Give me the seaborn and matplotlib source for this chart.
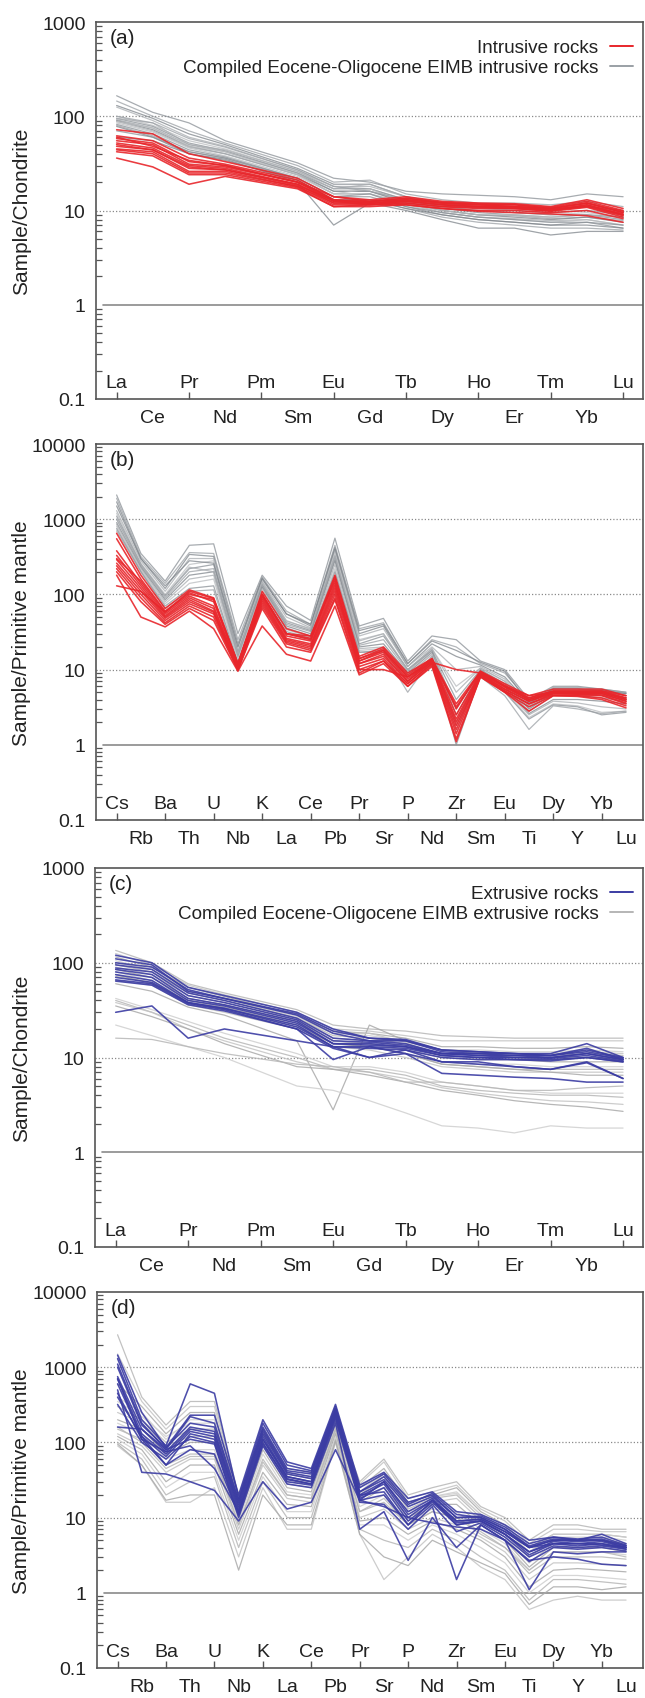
import numpy as np
import pandas as pd
import matplotlib
matplotlib.use("Agg")
import matplotlib.pyplot as plt
from matplotlib.lines import Line2D
from matplotlib.ticker import FixedLocator, FuncFormatter, NullFormatter
import seaborn as sns

# ---------------------------------------------------------------- element axes
REE_AXIS = ["La", "Ce", "Pr", "Nd", "Pm", "Sm", "Eu", "Gd", "Tb", "Dy",
            "Ho", "Er", "Tm", "Yb", "Lu"]
REE_MEASURED = ["La", "Ce", "Pr", "Nd", "Sm", "Eu", "Gd", "Tb", "Dy",
                "Ho", "Er", "Tm", "Yb", "Lu"]          # Pm not analysed
SPIDER_AXIS = ["Cs", "Rb", "Ba", "Th", "U", "Nb", "K", "La", "Ce", "Pb", "Pr",
               "Sr", "P", "Nd", "Zr", "Sm", "Eu", "Ti", "Dy", "Y", "Yb", "Lu"]

# ------------------------------------------- (a) chondrite-normalised REE, intrusive
intrusive_ree = [
    [72, 65, 40, 33, 22, 14, 13, 14, 12.5, 12, 11.8, 11, 13, 10.5],
    [62, 55, 36, 31, 21, 13, 12.5, 13.5, 12.2, 11.8, 11.5, 10.8, 12.5, 10],
    [58, 52, 33, 30, 20, 12.5, 12.5, 13, 12, 11.5, 11.5, 10.5, 12, 9.5],
    [55, 50, 31, 29, 20, 13, 12, 13, 12, 11.5, 11, 10.5, 12, 9.5],
    [52, 46, 30, 28, 19, 12, 12, 12.5, 11.5, 11, 11, 10.2, 11.5, 9.2],
    [48, 44, 28, 27, 19, 12.5, 11.5, 12.5, 11.5, 11, 10.8, 10, 11.2, 9],
    [45, 42, 26, 26, 18, 12, 12, 12, 11, 10.8, 10.5, 10, 11, 8.8],
    [44, 40, 25, 25, 18, 11.5, 11.5, 12, 11, 10.5, 10.5, 9.8, 10.8, 8.5],
    [42, 38, 24, 24, 17.5, 11, 11.5, 11.5, 10.5, 10, 10, 9.5, 10, 8.2],
    [36, 29, 19, 23, 17, 11, 11, 11.5, 10.5, 9.8, 9.5, 9.2, 8.8, 7.5],
    [60, 48, 34, 30, 20, 14, 12.5, 13.5, 12, 11.5, 11, 10.5, 12, 9.8],
    [50, 44, 29, 27, 18.5, 12.8, 12, 12.8, 11.5, 11, 10.5, 10, 11.5, 9],
]
compiled_intrusive_ree = [
    [165, 110, 85, 55, 32, 22, 20, 16, 15, 14.5, 14, 13, 15, 14],
    [145, 100, 70, 52, 30, 20, 21, 15, 13, 12, 12, 11.5, 12.5, 11],
    [130, 95, 65, 50, 28, 19, 19, 14, 12, 11, 11, 10.5, 11, 10],
    [125, 90, 60, 48, 27, 18, 18, 14, 11.5, 10.5, 10, 9.5, 10, 9],
    [100, 80, 55, 45, 26, 18, 17, 13, 11, 10, 9.5, 9, 9.5, 8.5],
    [95, 78, 52, 43, 25, 17, 17, 13, 10.5, 9.5, 9, 8.5, 9, 8],
    [92, 75, 50, 42, 25, 16, 16, 12.5, 10, 9, 8.8, 8.2, 8.5, 7.8],
    [90, 72, 48, 40, 24, 16, 16, 12, 10, 9, 8.5, 8, 8.5, 7.5],
    [88, 70, 47, 40, 24, 15, 15, 12, 9.5, 8.5, 8.2, 7.8, 8, 7],
    [85, 68, 46, 38, 23, 15, 15, 11.5, 9.5, 8.5, 8, 7.5, 8, 7],
    [82, 65, 44, 37, 22, 14, 14, 11, 9, 8, 7.5, 7, 7.5, 6.5],
    [80, 62, 42, 36, 21, 13, 13, 10.5, 8.5, 7.5, 7, 6.5, 6.5, 6.2],
    [78, 60, 40, 35, 20, 7, 12, 10, 8, 6.5, 6.5, 5.5, 6, 6],
    [95, 85, 50, 44, 26, 17, 19, 14, 12, 11, 10, 9.5, 10, 9.5],
    [88, 75, 48, 42, 24, 15, 17, 12, 10, 9, 9, 8.5, 9, 8.5],
    [70, 60, 42, 36, 22, 14, 15, 11, 9.5, 8.5, 8, 7.5, 7.5, 7],
    [100, 85, 58, 47, 27, 18, 16, 13, 11, 10, 9.5, 9, 9, 8.5],
    [60, 55, 40, 34, 21, 13, 13, 10.5, 9, 8, 7.5, 7, 7, 6.5],
]

# ------------------------------- (b) primitive-mantle-normalised traces, intrusive
intrusive_spider = [
    [650, 180, 65, 115, 90, 12, 110, 35, 28, 180, 15, 20, 9, 14, 3.5, 9.5, 6.5, 4.5, 5.5, 5.5, 5.5, 4.5],
    [550, 160, 60, 105, 80, 11.5, 100, 30, 25, 160, 14, 19, 8.5, 14, 3, 9.5, 6, 4.2, 5.2, 5.2, 5.2, 4.2],
    [380, 140, 55, 95, 70, 11, 95, 28, 24, 140, 13, 18, 8, 13.5, 2.5, 9, 6, 4, 5, 5, 5, 4],
    [330, 130, 52, 90, 65, 11, 90, 26, 22, 130, 13, 17, 7.5, 13, 2.2, 9, 5.8, 4, 5, 5, 5, 4],
    [290, 120, 50, 85, 60, 10.5, 85, 25, 21, 120, 12, 16, 7, 13, 2, 8.8, 5.5, 3.8, 5, 4.8, 4.8, 3.8],
    [260, 110, 48, 80, 58, 10.5, 80, 24, 20, 110, 12, 15, 7, 12.5, 1.8, 8.5, 5.5, 3.8, 4.8, 4.8, 4.8, 3.8],
    [240, 100, 45, 75, 55, 10, 75, 23, 19, 100, 11, 14, 6.5, 12, 1.6, 8.5, 5.2, 3.5, 4.8, 4.7, 4.6, 3.6],
    [220, 90, 42, 70, 50, 10, 70, 22, 18, 90, 10, 13, 6.5, 12, 1.4, 8.2, 5.2, 3.5, 4.6, 4.6, 4.5, 3.5],
    [200, 80, 40, 65, 45, 9.8, 65, 20, 17, 85, 9, 13, 6, 11.5, 1.2, 8, 5, 3.2, 4.5, 4.5, 4.2, 3.3],
    [180, 50, 37, 60, 35, 9.5, 38, 16, 13, 70, 8.5, 12, 6, 11, 1.1, 8, 5, 2.8, 4.5, 4.4, 4, 3.1],
    [130, 110, 58, 100, 85, 12, 100, 30, 28, 150, 10, 10, 8, 12.5, 10, 9, 6, 4.5, 5, 5, 5, 4.2],
    [300, 150, 58, 110, 88, 12, 100, 30, 26, 170, 14, 18, 8, 13.5, 3.2, 9.2, 6.2, 4.2, 5.2, 5.2, 5.2, 4.5],
]
compiled_intrusive_spider = [
    [2100, 350, 150, 450, 470, 30, 180, 70, 45, 560, 38, 48, 13, 28, 25, 13, 10, 4, 6, 6, 5.5, 5],
    [1900, 320, 140, 360, 350, 25, 170, 60, 40, 450, 35, 42, 12, 25, 20, 12, 9, 3.8, 5.8, 5.8, 5.5, 5],
    [1500, 300, 120, 340, 320, 22, 160, 55, 38, 400, 30, 38, 11, 22, 15, 11.5, 8, 3.5, 5.5, 5.5, 5.2, 4.8],
    [1300, 280, 110, 300, 300, 20, 150, 50, 36, 380, 28, 35, 11, 20, 10, 11, 7.5, 3.3, 5.2, 5.2, 5, 4.5],
    [1200, 260, 100, 250, 280, 18, 140, 45, 34, 350, 25, 30, 10, 19, 6, 10.5, 7, 3, 5, 5, 4.8, 4.2],
    [1100, 250, 95, 220, 250, 17, 135, 42, 33, 320, 22, 28, 10, 18, 4, 10, 6.5, 3, 4.8, 4.8, 4.5, 4],
    [1000, 240, 90, 200, 220, 16, 130, 40, 32, 300, 21, 25, 9.5, 18, 3, 10, 6, 2.8, 4.5, 4.5, 4.2, 3.8],
    [900, 230, 85, 180, 200, 15, 125, 38, 30, 280, 20, 22, 9, 17, 2.5, 9.5, 6, 2.6, 4, 4, 3.8, 3.5],
    [850, 220, 80, 160, 180, 14, 120, 36, 28, 250, 19, 20, 8.5, 16, 2, 9, 5.5, 2.5, 3.8, 3.6, 3.2, 3],
    [800, 210, 75, 140, 160, 13, 110, 34, 27, 220, 18, 19, 8, 16, 1.5, 9, 5.2, 2.3, 3.5, 3.3, 2.7, 2.8],
    [750, 200, 70, 120, 130, 12, 100, 32, 26, 200, 17, 18, 7, 15, 1.0, 8.5, 5, 2.2, 3.4, 3.2, 2.5, 2.7],
    [700, 200, 65, 110, 115, 11.5, 95, 30, 25, 180, 17, 17, 5, 14, 1.8, 8, 4.5, 1.6, 3.3, 3, 2.6, 2.8],
    [1700, 300, 130, 280, 260, 20, 165, 55, 40, 420, 33, 40, 12, 24, 18, 12.5, 9.5, 3.6, 5.6, 5.6, 5.3, 4.8],
    [1000, 250, 95, 230, 200, 16, 145, 44, 35, 330, 24, 30, 10, 19, 5, 10.5, 7, 3.2, 5, 5, 4.6, 4.2],
]

# ------------------------------------------- (c) chondrite-normalised REE, extrusive
extrusive_ree = [
    [120, 100, 55, 45, 30, 20, 16, 15.5, 12, 11.5, 11, 11, 14, 10],
    [100, 90, 52, 42, 28, 18, 15, 15, 11.5, 11, 11, 10.5, 12, 10],
    [95, 85, 48, 40, 26, 16, 15, 14, 11, 11, 10.5, 10.5, 11.5, 9.8],
    [88, 80, 45, 38, 25, 15, 14.5, 13.5, 11, 10.5, 10.5, 10, 11, 9.5],
    [85, 75, 42, 36, 24, 14, 14, 13, 11, 10.5, 10, 10, 11, 9.5],
    [80, 70, 40, 35, 23, 14, 13.5, 13, 10.5, 10, 10, 9.8, 10.5, 9.2],
    [75, 65, 38, 33, 22, 13, 13, 12.5, 10.5, 10, 9.5, 9.5, 10, 9],
    [70, 62, 38, 33, 21, 13, 12.5, 12, 10, 9.5, 9.5, 9.2, 10, 9],
    [66, 60, 37, 32, 20, 12.5, 10, 12, 9, 8.5, 8, 7.5, 9, 6],
    [64, 58, 36, 31, 20, 9.5, 13, 11, 6.8, 6.5, 6.2, 6, 5.5, 5.5],
    [30, 35, 16, 20, 15, 13, 10, 11, 9, 9, 8, 7.5, 8.8, 6],
    [110, 95, 50, 42, 29, 19, 16, 15, 12, 11.5, 11, 10.5, 12.5, 9.5],
]
compiled_extrusive_ree = [
    [135, 100, 60, 48, 32, 22, 20, 19, 17, 16.5, 16, 16, 16, 16],
    [125, 95, 58, 46, 30, 20, 19, 17, 15, 15, 15, 15, 15, 15],
    [115, 90, 55, 44, 28, 19, 18, 16, 13, 13, 12.5, 12.5, 13, 12.5],
    [105, 85, 50, 42, 27, 18, 17, 15, 12, 12, 11.5, 11.5, 12, 11.5],
    [95, 80, 48, 40, 26, 17, 16, 14, 11, 11, 10.5, 10.5, 11, 10.5],
    [90, 75, 45, 38, 25, 16, 15, 13, 10.5, 10, 10, 10, 10, 10],
    [85, 70, 42, 36, 24, 15, 14, 12, 10, 9.5, 9.5, 9, 9, 9],
    [80, 65, 40, 34, 23, 15, 14, 12, 9, 8.5, 8.5, 8, 8, 8],
    [72, 62, 38, 32, 21, 14, 13, 11, 8.5, 8, 7.5, 7.5, 7.5, 7.5],
    [65, 58, 36, 30, 20, 13, 12, 10, 8, 7.5, 7, 7, 7, 7],
    [60, 50, 34, 28, 15, 2.8, 22, 15, 12, 11, 10, 9.5, 10, 9.5],
    [42, 32, 24, 18, 11, 8, 8, 7, 5.5, 5, 4.5, 4.2, 4.2, 4.2],
    [40, 30, 22, 16, 10, 7.5, 7.5, 6.5, 5, 4.5, 4.2, 4, 4, 3.8],
    [38, 30, 20, 15, 9, 7.5, 7, 6, 4.8, 4.2, 3.8, 3.5, 3.4, 3.2],
    [35, 27, 20, 14, 8, 7.5, 6.5, 5.5, 4.5, 4, 3.5, 3.2, 3, 2.7],
    [22, 17, 13, 10, 5, 4.5, 3.5, 2.6, 1.9, 1.8, 1.6, 1.9, 1.8, 1.8],
    [16, 15.5, 13, 11, 8.5, 8, 7, 5.5, 5.5, 5, 4.5, 4.5, 4.8, 5],
    [100, 85, 50, 42, 26, 18, 18, 14.5, 12, 11.5, 11, 11, 11.5, 11],
    [75, 60, 40, 34, 22, 14, 13, 11, 8.5, 8, 7.5, 7, 6.5, 6.5],
]

# ------------------------------- (d) primitive-mantle-normalised traces, extrusive
extrusive_spider = [
    [1450, 250, 85, 230, 230, 20, 200, 55, 45, 320, 27, 40, 18, 22, 12, 11, 8, 5, 5.5, 5, 6, 4.5],
    [1300, 200, 90, 600, 450, 18, 180, 50, 42, 300, 25, 38, 16, 20, 10, 10.5, 7.5, 4.5, 5.5, 5.2, 5.5, 4.3],
    [1100, 180, 80, 220, 180, 17, 160, 45, 40, 280, 22, 35, 15, 21, 11, 10, 7, 4.2, 5.2, 5, 5.2, 4.2],
    [750, 150, 75, 160, 140, 15, 140, 40, 35, 260, 20, 30, 12, 18, 9, 9.5, 6.5, 4, 5, 4.8, 5, 4],
    [700, 130, 70, 150, 130, 14, 130, 38, 33, 250, 19, 28, 10, 17, 8.5, 9, 6, 3.5, 4.8, 4.5, 4.8, 4],
    [600, 120, 65, 140, 120, 13, 120, 35, 30, 230, 18, 25, 9, 16, 8, 9, 6, 3.2, 4.5, 4.2, 4.5, 3.8],
    [450, 110, 50, 130, 110, 12, 110, 33, 28, 220, 17, 20, 8, 15, 6.5, 8.5, 5.5, 3, 4.2, 4, 4.2, 3.8],
    [320, 100, 60, 120, 100, 11, 100, 30, 27, 200, 16, 15, 7, 14, 1.5, 8, 5, 2.6, 4, 3.8, 4, 3.6],
    [160, 150, 80, 110, 95, 10, 90, 28, 25, 180, 7, 12, 2.7, 10, 4, 8, 5, 1.1, 3.5, 3.3, 3.5, 3.5],
    [500, 40, 38, 30, 23, 9, 30, 13, 16, 80, 17, 14, 10, 8.5, 7.5, 7, 5, 2.7, 3, 2.8, 2.4, 2.3],
    [700, 110, 75, 90, 45, 12, 95, 32, 28, 240, 20, 22, 8, 17, 8, 9, 6, 3.5, 4.5, 4.5, 4.5, 4],
    [1000, 170, 85, 180, 160, 16, 150, 42, 38, 270, 22, 32, 14, 19, 10, 10, 7, 4, 5, 5, 5, 4.2],
    [400, 120, 50, 80, 70, 11, 110, 35, 30, 230, 17, 30, 11, 17, 9, 9.5, 6.5, 4, 4.5, 4.5, 4.3, 4],
]
compiled_extrusive_spider = [
    [2700, 400, 170, 350, 350, 20, 150, 45, 40, 230, 30, 60, 20, 25, 30, 14, 10, 5, 8, 8, 7, 7],
    [1500, 350, 150, 300, 300, 18, 140, 40, 35, 220, 28, 55, 18, 22, 27, 13, 9, 4.5, 7, 7, 6.5, 6.5],
    [600, 300, 130, 250, 250, 16, 130, 38, 33, 210, 25, 45, 16, 20, 25, 12, 8, 4, 6, 6, 6, 5.5],
    [400, 250, 110, 200, 200, 15, 120, 35, 30, 200, 22, 40, 15, 19, 22, 11, 7, 3.5, 5.5, 5.5, 5.5, 5],
    [300, 200, 100, 150, 150, 13, 100, 30, 28, 190, 20, 35, 13, 18, 20, 10, 6, 3, 5, 5, 5, 4.5],
    [250, 180, 90, 120, 120, 12, 90, 28, 25, 180, 18, 30, 12, 16, 18, 9, 5.5, 2.5, 4.5, 4.5, 4.5, 4],
    [200, 150, 70, 100, 100, 10, 80, 25, 22, 170, 16, 25, 10, 15, 15, 8, 5, 2.2, 4, 4, 4, 3.5],
    [180, 130, 60, 80, 80, 9, 70, 22, 20, 160, 14, 20, 9, 13, 12, 7, 4.5, 2, 3.5, 3.5, 3.5, 3.2],
    [150, 110, 50, 70, 70, 8, 60, 20, 18, 150, 12, 16, 8, 12, 10, 6.5, 4, 1.8, 3, 3, 3, 2.8],
    [130, 90, 40, 60, 60, 7, 50, 18, 16, 140, 10, 13, 7, 10, 8, 5.5, 3.5, 1.5, 2.5, 2.5, 2.4, 2.3],
    [120, 80, 30, 50, 50, 6, 40, 15, 14, 130, 9, 10, 6, 9, 7, 5, 3, 1.2, 2, 2.1, 2, 1.9],
    [110, 70, 25, 40, 40, 5, 35, 12, 12, 120, 8, 8, 5, 8, 6, 4, 2.5, 1, 1.7, 1.7, 1.6, 1.5],
    [100, 60, 20, 30, 35, 4, 30, 10, 10, 110, 7, 5, 4, 7, 5, 3, 2, 0.8, 1.5, 1.5, 1.4, 1.3],
    [90, 50, 16, 16, 25, 3, 25, 7, 7, 100, 6, 1.5, 3, 6, 4, 2.2, 1.5, 0.6, 0.8, 0.9, 0.8, 0.8],
    [95, 50, 17, 20, 20, 2, 20, 8, 8, 105, 6, 3, 2.3, 5, 3.5, 2.5, 1.8, 0.7, 1.2, 1.2, 1.1, 1.2],
    [350, 220, 120, 180, 180, 14, 110, 32, 30, 200, 21, 38, 14, 19, 21, 11, 7, 3.5, 6, 6, 6, 5.5],
    [160, 100, 45, 65, 65, 8, 55, 20, 18, 150, 12, 18, 8, 12, 10, 6, 4, 2, 3.5, 3.5, 3.5, 3],
]

# ---------------------------------------------------------------- styling
RED = "#e8262b"
BLUE = "#3b3ca3"
GRAY_DARK = ["#8a9096", "#9ba0a5", "#7f858b", "#a9adb1", "#b9bcbf"]
GRAY_LIGHT = ["#b7b7b7", "#c4c4c4", "#aaaaaa", "#cfcfcf"]
TXT = "#222222"
SPINE = "#555555"

sns.set_style("white")
plt.rcParams["font.family"] = ["Liberation Sans", "DejaVu Sans"]
plt.rcParams["text.color"] = TXT
plt.rcParams["axes.labelcolor"] = TXT
plt.rcParams["xtick.color"] = SPINE
plt.rcParams["ytick.color"] = SPINE
plt.rcParams["xtick.labelcolor"] = TXT
plt.rcParams["ytick.labelcolor"] = TXT

W, H = 645, 1699


def long_frame(elements, axis, rows, tag):
    recs = []
    for i, row in enumerate(rows):
        for el, v in zip(elements, row):
            if v is None or (isinstance(v, float) and np.isnan(v)):
                continue
            recs.append({"sample": f"{tag}{i:02d}", "pos": axis.index(el),
                         "element": el, "value": v})
    return pd.DataFrame(recs)


def draw_lines(ax, df, colors, lw, alpha):
    samples = list(dict.fromkeys(df["sample"]))
    pal = {s: colors[k % len(colors)] for k, s in enumerate(samples)}
    sns.lineplot(data=df, x="pos", y="value", hue="sample", units="sample",
                 estimator=None, palette=pal, lw=lw, alpha=alpha, sort=False,
                 legend=False, ax=ax)


def style_axes(ax, axis, ymin, ymax, ylabel, tag, xlim, left_px, width_px):
    ax.set_yscale("log")
    ax.set_ylim(ymin, ymax)
    ax.set_xlim(*xlim)
    decades = [10.0 ** k for k in range(int(np.log10(ymin)), int(np.log10(ymax)) + 1)]
    ax.yaxis.set_major_locator(FixedLocator(decades))
    ax.yaxis.set_major_formatter(FuncFormatter(lambda v, p: f"{v:g}"))
    minors = [m * d for d in decades[:-1] for m in range(2, 10)]
    ax.yaxis.set_minor_locator(FixedLocator(minors))
    ax.yaxis.set_minor_formatter(NullFormatter())
    ax.tick_params(axis="y", which="major", direction="out", length=6.5,
                   width=1.0, labelsize=14, pad=1)
    ax.tick_params(axis="y", which="minor", direction="in", length=4.5,
                   width=0.9, left=True)

    # even positions: ticks and labels below the axis
    n = len(axis)
    lower = list(range(1, n, 2))
    upper = list(range(0, n, 2))
    ax.xaxis.set_major_locator(FixedLocator(lower))
    ax.set_xticklabels([axis[i] for i in lower])
    ax.xaxis.set_minor_locator(FixedLocator(upper))
    ax.xaxis.set_minor_formatter(NullFormatter())
    ax.tick_params(axis="x", which="major", direction="out", length=5,
                   width=1.0, labelsize=14, pad=2.5)
    ax.tick_params(axis="x", which="minor", direction="in", length=5,
                   width=1.0, bottom=True)
    # odd positions: labels sitting just inside the frame
    for i in upper:
        ax.annotate(axis[i], xy=(i, 0), xycoords=("data", "axes fraction"),
                    xytext=(0, 8.5), textcoords="offset points",
                    ha="center", va="baseline", fontsize=14, color=TXT)

    for v in decades[1:-1]:
        if v == 1:
            ax.axhline(v, xmin=0.012, color="#8a8a8a", lw=1.2, zorder=0.5)
        else:
            ax.axhline(v, color="#8a8a8a", lw=0.9, ls=(0, (1, 1.6)), zorder=0.5)

    for s in ax.spines.values():
        s.set_color(SPINE)
        s.set_linewidth(1.2)
    ax.set_xlabel("")
    ax.set_ylabel(ylabel, fontsize=15)
    ax.yaxis.set_label_coords((31 - left_px) / width_px, 0.5)
    ax.annotate(tag, xy=(0, 1), xycoords="axes fraction", xytext=(10, -4),
                textcoords="offset points", ha="left", va="top", fontsize=15)


def add_legend(ax, color_main, label_main, color_gray, label_gray):
    handles = [Line2D([], [], color=color_main, lw=1.4),
               Line2D([], [], color=color_gray, lw=1.4)]
    ax.legend(handles, [label_main, label_gray], loc="upper right",
              bbox_to_anchor=(0.981, 0.955), frameon=False, markerfirst=False,
              fontsize=13.6, handlelength=1.2, handletextpad=0.6,
              labelspacing=0.15, borderpad=0, borderaxespad=0)


fig = plt.figure(figsize=(W / 100, H / 100), dpi=100)


def make_axes(left, top, bottom, right=643):
    ax = fig.add_axes([left / W, 1 - bottom / H, (right - left) / W, (bottom - top) / H])
    ax.set_yscale("log")
    return ax, left, right - left


REE_XLIM = (-0.57, 14.55)
SPIDER_XLIM = (-0.85, 21.7)

# (a)
ax_a, l_a, w_a = make_axes(96, 23, 400)
draw_lines(ax_a, long_frame(REE_MEASURED, REE_AXIS, compiled_intrusive_ree, "gi"),
           GRAY_DARK, 0.9, 0.75)
draw_lines(ax_a, long_frame(REE_MEASURED, REE_AXIS, intrusive_ree, "ri"),
           [RED], 1.15, 0.9)
style_axes(ax_a, REE_AXIS, 0.1, 1000, "Sample/Chondrite", "(a)", REE_XLIM, l_a, w_a)
add_legend(ax_a, RED, "Intrusive rocks", "#9aa0a5",
           "Compiled Eocene-Oligocene EIMB intrusive rocks")

# (b)
ax_b, l_b, w_b = make_axes(96, 445, 821)
draw_lines(ax_b, long_frame(SPIDER_AXIS, SPIDER_AXIS, compiled_intrusive_spider, "gs"),
           GRAY_DARK, 0.9, 0.75)
draw_lines(ax_b, long_frame(SPIDER_AXIS, SPIDER_AXIS, intrusive_spider, "rs"),
           [RED], 1.15, 0.9)
style_axes(ax_b, SPIDER_AXIS, 0.1, 10000, "Sample/Primitive mantle", "(b)",
           SPIDER_XLIM, l_b, w_b)

# (c)
ax_c, l_c, w_c = make_axes(95, 869, 1248)
draw_lines(ax_c, long_frame(REE_MEASURED, REE_AXIS, compiled_extrusive_ree, "ge"),
           GRAY_LIGHT, 0.9, 0.85)
draw_lines(ax_c, long_frame(REE_MEASURED, REE_AXIS, extrusive_ree, "be"),
           [BLUE], 1.15, 0.9)
style_axes(ax_c, REE_AXIS, 0.1, 1000, "Sample/Chondrite", "(c)", REE_XLIM, l_c, w_c)
add_legend(ax_c, BLUE, "Extrusive rocks", "#b5b5b5",
           "Compiled Eocene-Oligocene EIMB extrusive rocks")

# (d)
ax_d, l_d, w_d = make_axes(97, 1293, 1669)
draw_lines(ax_d, long_frame(SPIDER_AXIS, SPIDER_AXIS, compiled_extrusive_spider, "gx"),
           GRAY_LIGHT, 0.9, 0.85)
draw_lines(ax_d, long_frame(SPIDER_AXIS, SPIDER_AXIS, extrusive_spider, "bx"),
           [BLUE], 1.15, 0.9)
style_axes(ax_d, SPIDER_AXIS, 0.1, 10000, "Sample/Primitive mantle", "(d)",
           SPIDER_XLIM, l_d, w_d)

fig.savefig("out.png", dpi=100, facecolor="white")
